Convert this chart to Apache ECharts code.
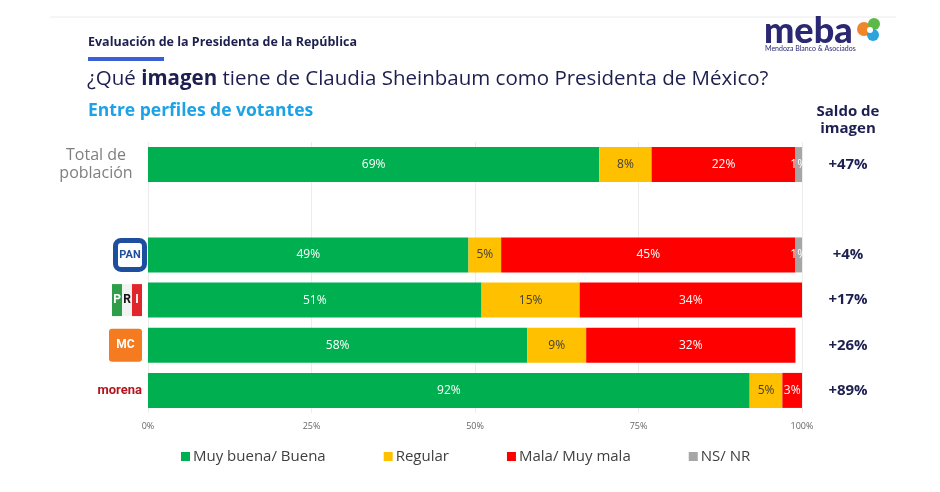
<!DOCTYPE html>
<html>
<head>
<meta charset="utf-8">
<script src="https://cdn.jsdelivr.net/npm/echarts@6/dist/echarts.min.js"></script>
<style>
  html, body { margin: 0; padding: 0; background: #fff; }
  #chart { width: 940px; height: 492px; }
</style>
</head>
<body>
<div id="chart"></div>
<script>
// perfiles de votantes (la fila vacía separa el total de los partidos)
const categories = ['Total de población', '', 'PAN', 'PRI', 'MC', 'morena']
const muyBuena = [69, null, 49, 51, 58, 92]
const regular = [8, null, 5, 15, 9, 5]
const mala = [22, null, 45, 34, 32, 3]
const nsnr = [1, null, 1, 0, 0, 0]
const saldo = ['+47%', '', '+4%', '+17%', '+26%', '+89%']
const xTicks = [0, 25, 50, 75, 100]

const navy = '#1c1f4f'
const chart = echarts.init(document.getElementById('chart'))

function pct(p) {
  return p.value ? p.value + '%' : ''
}

function barSeries(name, data, color, labelColor) {
  return {
    name: name,
    type: 'bar',
    stack: 'total',
    data: data,
    barWidth: 35,
    itemStyle: { color: color },
    label: {
      show: true,
      formatter: pct,
      color: labelColor,
      fontSize: 12,
      fontFamily: 'Open Sans'
    }
  }
}

const option = {
  animation: false,
  backgroundColor: '#fff',
  grid: { left: 148, right: 138, top: 142, bottom: 79 },
  legend: {
    left: 176,
    top: 444,
    itemGap: 58,
    itemWidth: 9,
    itemHeight: 9,
    icon: 'rect',
    textStyle: { fontSize: 15, color: '#404040', fontFamily: 'Open Sans', padding: [0, 0, 0, -2] },
    data: ['Muy buena/ Buena', 'Regular', 'Mala/ Muy mala', 'NS/ NR']
  },
  xAxis: {
    type: 'value',
    min: 0,
    max: 100,
    interval: 25,
    axisLine: { show: false },
    axisTick: { show: false },
    splitLine: { lineStyle: { color: '#ececec' } },
    axisLabel: {
      formatter: v => xTicks.includes(v) ? v + '%' : '',
      fontSize: 9,
      color: '#666',
      margin: 9,
      fontFamily: 'Open Sans'
    }
  },
  yAxis: [
    {
      type: 'category',
      inverse: true,
      data: categories,
      axisLine: { show: false },
      axisTick: { show: false },
      axisLabel: {
        margin: 6,
        formatter: function (v) {
          if (v === 'Total de población') return '{tot|Total de}\n{tot|población}'
          if (v === 'PAN') return '{pan|PAN}'
          if (v === 'PRI') return '{p|P}{r|R}{i|I}'
          if (v === 'MC') return '{mc|MC}'
          if (v === 'morena') return '{mor|morena}'
          return ''
        },
        rich: {
          tot: { color: '#7f7f7f', fontSize: 16, lineHeight: 18, width: 84, align: 'center', padding: [0, 4, 0, 0], fontFamily: 'Open Sans' },
          pan: { color: '#1e4f9e', backgroundColor: '#fff', borderColor: '#1e4f9e', borderWidth: 5, borderRadius: 3, width: 24, height: 24, align: 'center', fontSize: 11, fontWeight: 'bold', fontFamily: 'Roboto' },
          p: { color: '#fff', backgroundColor: '#2f9e48', width: 10, height: 32, align: 'center', fontSize: 12, fontWeight: 'bold', fontFamily: 'Roboto' },
          r: { color: '#111', backgroundColor: '#f2f2f2', width: 10, height: 32, align: 'center', fontSize: 12, fontWeight: 'bold', fontFamily: 'Roboto' },
          i: { color: '#fff', backgroundColor: '#e0262b', width: 10, height: 32, align: 'center', fontSize: 12, fontWeight: 'bold', fontFamily: 'Roboto' },
          mc: { color: '#fff', backgroundColor: '#f47b20', borderRadius: 3, width: 33, height: 33, align: 'center', fontSize: 12, fontWeight: 'bold', fontFamily: 'Roboto' },
          mor: { color: '#b3151c', fontSize: 13, fontWeight: 'bold', fontFamily: 'Roboto' }
        }
      }
    },
    {
      type: 'category',
      inverse: true,
      position: 'right',
      data: saldo,
      axisLine: { show: false },
      axisTick: { show: false },
      axisLabel: {
        align: 'center',
        margin: 46,
        color: navy,
        fontSize: 15,
        fontWeight: 'bold',
        fontFamily: 'Open Sans'
      }
    }
  ],
  series: [
    barSeries('Muy buena/ Buena', muyBuena, '#00b050', '#fff'),
    barSeries('Regular', regular, '#ffc000', '#404040'),
    barSeries('Mala/ Muy mala', mala, '#ff0000', '#fff'),
    barSeries('NS/ NR', nsnr, '#a6a6a6', '#fff')
  ],
  graphic: [
    { type: 'line', shape: { x1: 50, y1: 17, x2: 896, y2: 17 }, style: { stroke: '#ececec', lineWidth: 1 } },
    {
      type: 'text', left: 88, top: 36,
      style: { text: 'Evaluación de la Presidenta de la República', fill: navy, font: 'bold 12.5px "Open Sans"' }
    },
    { type: 'rect', shape: { x: 88, y: 57, width: 76, height: 4 }, style: { fill: '#3a5fd9' } },
    {
      type: 'text', left: 87, top: 69,
      style: {
        text: '{n|¿Qué }{b|imagen}{n| tiene de Claudia Sheinbaum como Presidenta de México?}',
        rich: {
          n: { fill: navy, font: '20.5px "Open Sans"' },
          b: { fill: navy, font: 'bold 20.5px "Open Sans"' }
        }
      }
    },
    {
      type: 'text', left: 88, top: 102,
      style: { text: 'Entre perfiles de votantes', fill: '#1ea2e6', font: 'bold 17.5px "Open Sans"' }
    },
    {
      type: 'text', x: 848, y: 103,
      style: { text: 'Saldo de\nimagen', fill: navy, font: 'bold 15px "Open Sans"', align: 'center', lineHeight: 17 }
    },
    {
      type: 'text', left: 764, top: 13,
      style: { text: 'meba', fill: '#2a2872', font: '900 36px Lato' }
    },
    {
      type: 'text', left: 765, top: 45,
      style: { text: 'Mendoza Blanco & Asociados', fill: '#2a2872', font: '7px Lato' }
    },
    { type: 'circle', shape: { cx: 864, cy: 29, r: 7 }, style: { fill: '#f0862a' } },
    { type: 'circle', shape: { cx: 874, cy: 24, r: 6 }, style: { fill: '#5cb847' } },
    { type: 'circle', shape: { cx: 873, cy: 35, r: 6 }, style: { fill: '#2aa4dc' } },
    { type: 'circle', shape: { cx: 870, cy: 30, r: 3 }, style: { fill: '#fff' } }
  ]
}

chart.setOption(option)
</script>
</body>
</html>
